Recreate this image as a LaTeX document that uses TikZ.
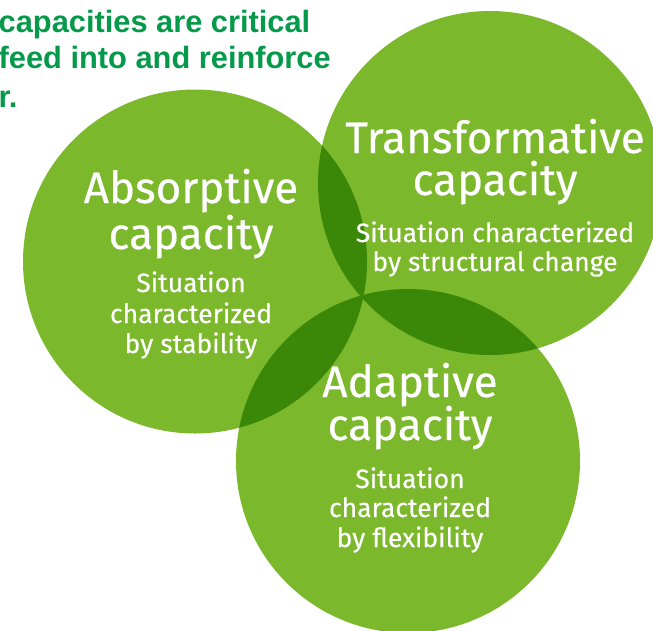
\documentclass[tikz,border=0pt]{standalone}
\usepackage{fontspec}
\setmainfont{Fira Sans}[FakeBold=0.4]
\newfontfamily\headfont{Liberation Sans}
\definecolor{leafgreen}{HTML}{7BB82C}
\definecolor{overlapgreen}{HTML}{3B8808}
\definecolor{headgreen}{HTML}{05994A}
\begin{document}
\begin{tikzpicture}[x=1pt,y=-1pt,
  headline/.style={anchor=base west,inner sep=0pt,text=headgreen,
    font=\headfont\bfseries\fontsize{30.8}{36}\selectfont},
  captitle/.style={anchor=base,inner sep=0pt,text=white,
    font=\fontsize{44}{48}\selectfont},
  capnote/.style={anchor=base,inner sep=0pt,text=white,
    font=\fontsize{26.5}{30}\selectfont}]
\useasboundingbox (0,0) rectangle (653,630);
\clip (0,0) rectangle (653,630);

% circle centres
\coordinate (cabs) at (195,261.5);
\coordinate (ctra) at (490,183);
\coordinate (cada) at (408,461);
\def\rad{172}

% the three capacities
\fill[leafgreen] (cabs) circle (\rad);
\fill[leafgreen] (ctra) circle (\rad);
\fill[leafgreen] (cada) circle (\rad);

% pairwise overlaps
\begin{scope}
  \clip (cabs) circle (\rad);
  \fill[overlapgreen] (ctra) circle (\rad);
  \fill[overlapgreen] (cada) circle (\rad);
\end{scope}
\begin{scope}
  \clip (ctra) circle (\rad);
  \fill[overlapgreen] (cada) circle (\rad);
\end{scope}

% heading
\node[headline] (h1) at (-1.5,32) {capacities are critical};
\node[headline] (h2) at (-1.5,68) {feed into and reinforce};
\node[headline] (h3) at (-1.5,107) {r.};

% absorptive
\node[captitle] (abs1) at (191,203) {Absorptive};
\node[captitle] (abs2) at (191,249) {capacity};
\node[capnote] (abs3) at (191,292) {Situation};
\node[capnote] (abs4) at (191,323) {characterized};
\node[capnote] (abs5) at (191,353) {by stability};

% transformative
\node[captitle] (tra1) at (495,153) {Transformative};
\node[captitle] (tra2) at (495,195) {capacity};
\node[capnote] (tra3) at (495,242) {Situation characterized};
\node[capnote] (tra4) at (495,271) {by structural change};

% adaptive
\node[captitle] (ada1) at (410,397) {Adaptive};
\node[captitle] (ada2) at (410,440) {capacity};
\node[capnote] (ada3) at (410,488) {Situation};
\node[capnote] (ada4) at (410,517) {characterized};
\node[capnote] (ada5) at (410,547) {by flexibility};
\end{tikzpicture}
\end{document}
